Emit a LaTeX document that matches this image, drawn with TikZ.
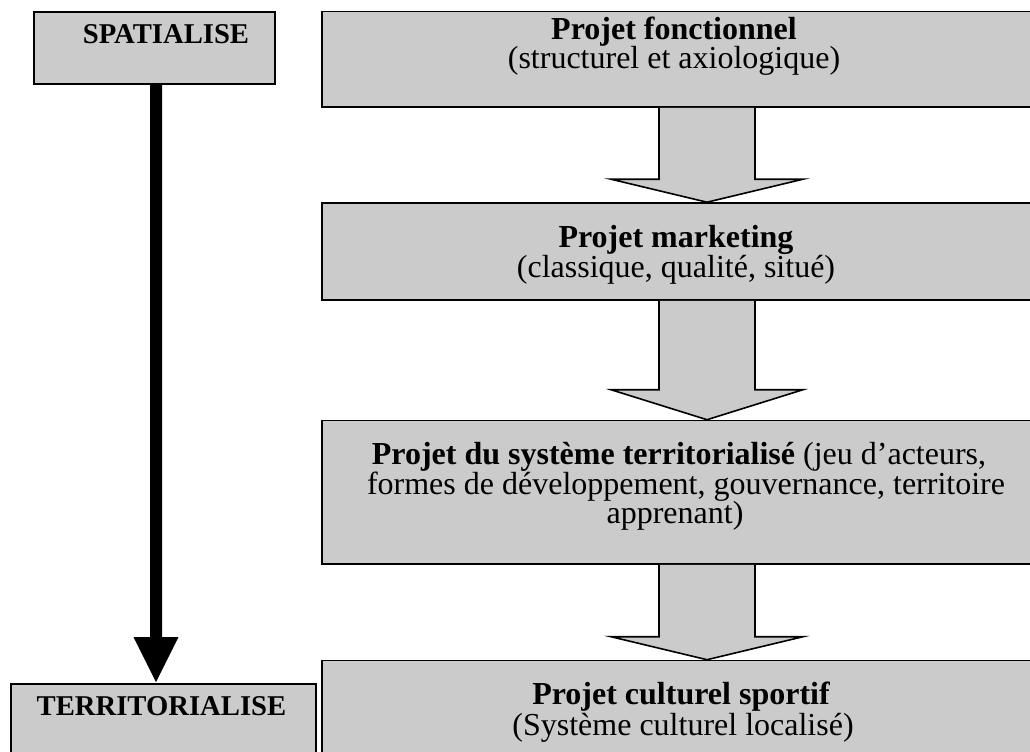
\documentclass[tikz,border=0pt]{standalone}
\usepackage{fontspec}
\setmainfont{Liberation Serif}
\usetikzlibrary{calc,fit}
\definecolor{boxgray}{RGB}{203,203,203}
\begin{document}
\begin{tikzpicture}[x=0.75pt,y=-0.75pt,
  box/.style={draw=black, line width=1.2pt, fill=boxgray, inner sep=0pt, rectangle},
  blockarrow/.style={fill=boxgray, draw=black, line width=1.2pt, line join=miter},
  lbl/.style={inner sep=0pt, font=\fontsize{21.5pt}{24pt}\selectfont\bfseries},
  maintxt/.style={inner sep=0pt, font=\fontsize{24pt}{26pt}\selectfont}]
\useasboundingbox (0,0) rectangle (1030,751);
\coordinate (a1) at (707,0);
% boxes
\node[box, fit={(322,11.5) (1040,107)}] (b1) {};
\node[box, fit={(322,203) (1040,300)}] (b2) {};
\node[box, fit={(322,420.5) (1040,564)}] (b3) {};
\node[box, fit={(322,660.5) (1040,770)}] (b4) {};
\node[box, fit={(34,12) (275,84)}] (spat) {};
\node[box, fit={(11,684) (316,770)}] (terr) {};
% block arrows
\path[blockarrow] ($(b1.south -| a1)+(-48,0)$) -- ($(b2.north -| a1)+(-48,-23)$) -- ($(b2.north -| a1)+(-96,-23)$) -- (b2.north -| a1) -- ($(b2.north -| a1)+(96,-23)$) -- ($(b2.north -| a1)+(48,-23)$) -- ($(b1.south -| a1)+(48,0)$);
\path[blockarrow] ($(b2.south -| a1)+(-48,0)$) -- ($(b3.north -| a1)+(-48,-30)$) -- ($(b3.north -| a1)+(-96,-30)$) -- (b3.north -| a1) -- ($(b3.north -| a1)+(96,-30)$) -- ($(b3.north -| a1)+(48,-30)$) -- ($(b2.south -| a1)+(48,0)$);
\path[blockarrow] ($(b3.south -| a1)+(-48,0)$) -- ($(b4.north -| a1)+(-48,-23)$) -- ($(b4.north -| a1)+(-96,-23)$) -- (b4.north -| a1) -- ($(b4.north -| a1)+(96,-23)$) -- ($(b4.north -| a1)+(48,-23)$) -- ($(b3.south -| a1)+(48,0)$);
% black arrow
\coordinate (ba) at (156,0);
\fill[black] ($(spat.south -| ba)+(-6,0)$) -- ($(terr.north -| ba)+(-6,-46)$) -- ($(terr.north -| ba)+(-22.5,-46)$) -- ($(terr.north -| ba)+(0,-1)$) -- ($(terr.north -| ba)+(22.5,-46)$) -- ($(terr.north -| ba)+(6,-46)$) -- ($(spat.south -| ba)+(6,0)$) -- cycle;
% labels
\node[lbl, anchor=base] (ts) at (166,43.3) {SPATIALISE};
\node[lbl, anchor=base] (tt) at (161.5,715) {TERRITORIALISE};
% box texts
\node[maintxt, anchor=base] (t1a) at (674,39) {\bfseries Projet fonctionnel};
\node[maintxt, anchor=base] (t1b) at (674,68) {(structurel et axiologique)};
\node[maintxt, anchor=base] (t2a) at (676,247) {\bfseries Projet marketing};
\node[maintxt, anchor=base] (t2b) at (676,277) {(classique, qualité, situé)};
\node[maintxt, anchor=base] (t3a) at (679,464) {\textbf{Projet du système territorialisé} (jeu d’acteurs,};
\node[maintxt, anchor=base] (t3b) at (686,494) {formes de développement, gouvernance, territoire};
\node[maintxt, anchor=base] (t3c) at (675,523) {apprenant)};
\node[maintxt, anchor=base] (t4a) at (681,704) {\bfseries Projet culturel sportif};
\node[maintxt, anchor=base] (t4b) at (683,735) {(Système culturel localisé)};
\end{tikzpicture}
\end{document}
